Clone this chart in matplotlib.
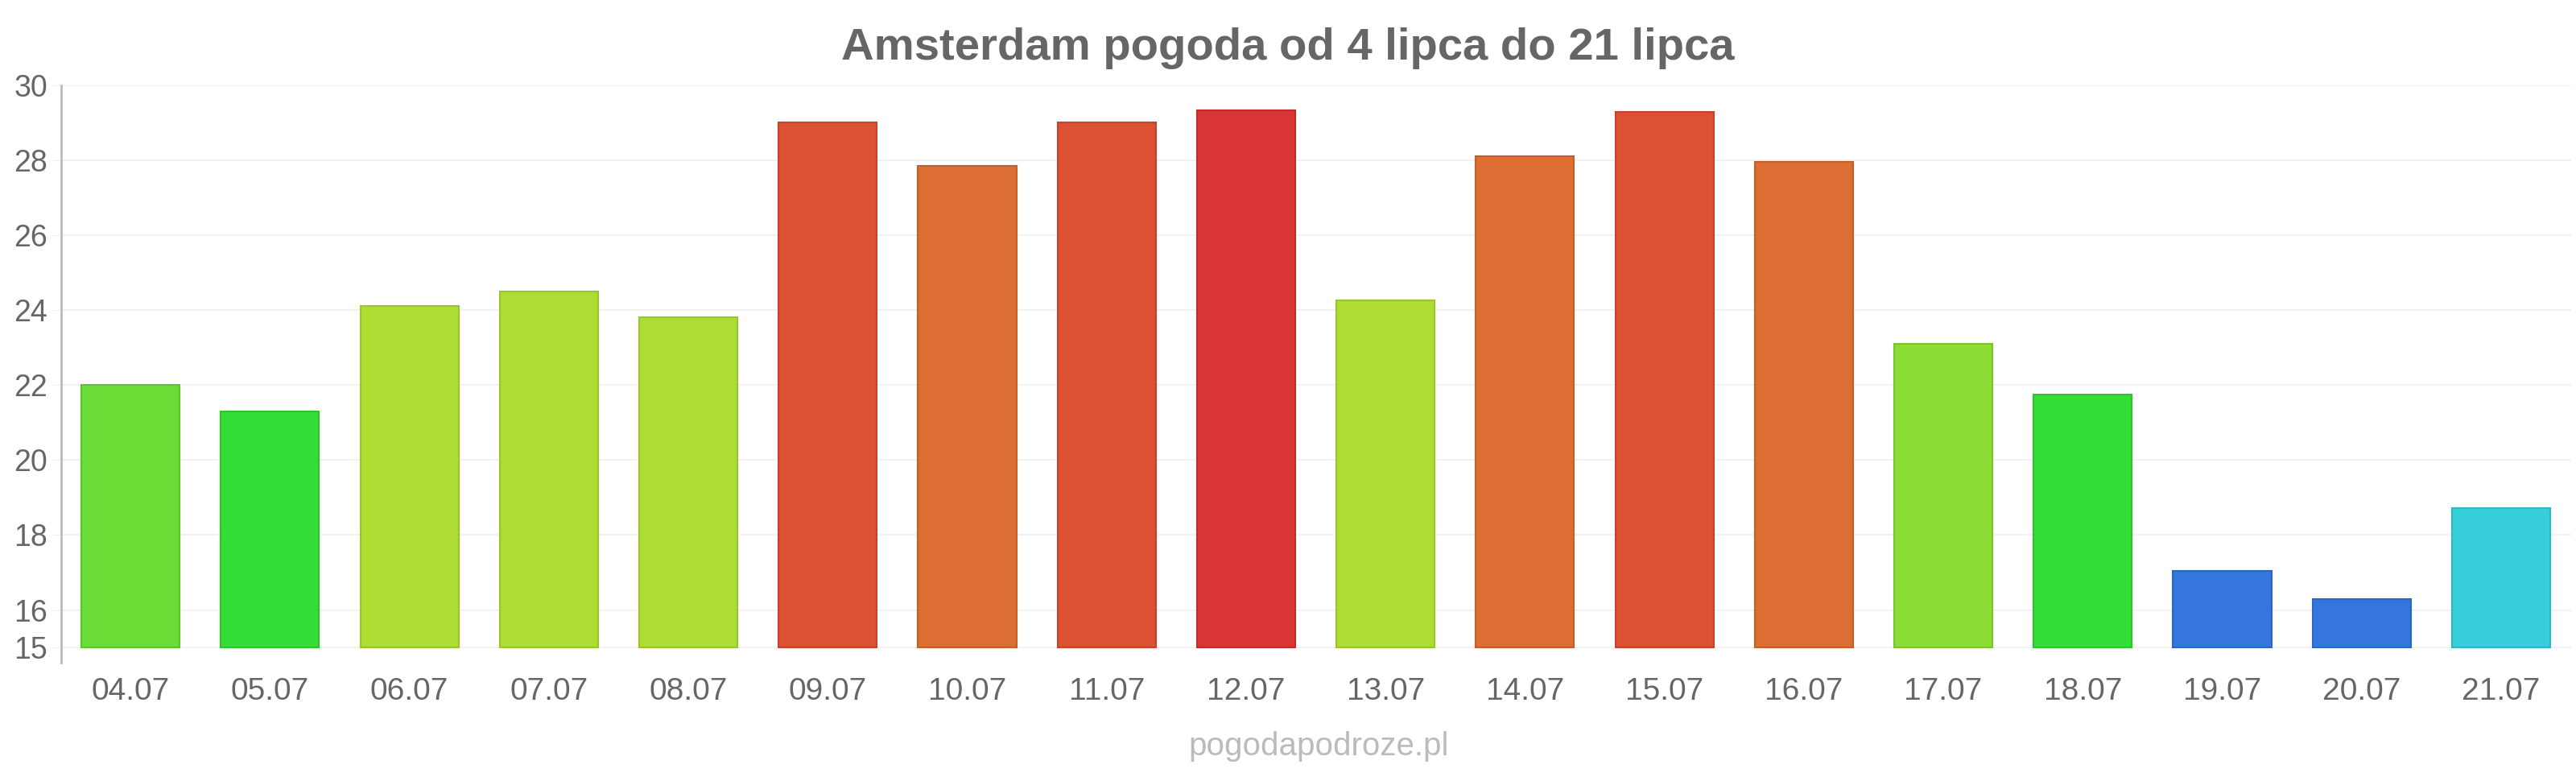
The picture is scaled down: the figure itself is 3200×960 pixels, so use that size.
import matplotlib.pyplot as plt

plt.rcParams['font.family'] = ['Liberation Sans', 'DejaVu Sans']

days = ["04.07", "05.07", "06.07", "07.07", "08.07", "09.07", "10.07", "11.07", "12.07",
        "13.07", "14.07", "15.07", "16.07", "17.07", "18.07", "19.07", "20.07", "21.07"]
temps = [22.0, 21.3, 24.1, 24.5, 23.8, 29.0, 27.85, 29.0, 29.33,
         24.25, 28.1, 29.28, 27.95, 23.1, 21.75, 17.05, 16.3, 18.72]
colors = ["#6bdd36", "#35dd37", "#addd33", "#addd33", "#addd33", "#dc5034", "#dc6e34", "#dc5034", "#da3535",
          "#addd33", "#dc6e34", "#dc5034", "#dc6e34", "#8bdd35", "#35dd37", "#3576dc", "#3576dc", "#36cfda"]
edges = ["#5cc52c", "#2cc52e", "#9ac52a", "#9ac52a", "#9ac52a", "#c4432a", "#c45f2a", "#c4432a", "#c22b2b",
         "#9ac52a", "#c45f2a", "#c4432a", "#c45f2a", "#79c52c", "#2cc52e", "#2c66c4", "#2c66c4", "#2db8c2"]
yticks = [15, 16, 18, 20, 22, 24, 26, 28, 30]
base = 15

fig = plt.figure(figsize=(32, 9.6), dpi=100)
ax = fig.add_axes([0.0236, 0.143, 0.9744, 0.747])

x = list(range(len(days)))
ax.bar(x, [t - base for t in temps], bottom=base, width=0.705, color=colors,
       edgecolor=edges, linewidth=1.5, zorder=3)

ax.set_xlim(-0.5, len(days) - 0.5)
ax.set_ylim(14.6, 30)
ax.set_yticks(yticks)
ax.set_xticks(x)
ax.set_xticklabels(days)
ax.grid(axis='y', color='#f2f2f2', linewidth=1.5, zorder=0)
ax.tick_params(axis='y', length=8, color='#eeeeee', labelsize=27, labelcolor='#666666', pad=4)
ax.tick_params(axis='x', length=0, labelsize=28, labelcolor='#666666', pad=13)

for s in ['top', 'right', 'bottom']:
    ax.spines[s].set_visible(False)
ax.spines['left'].set_color('#bbbbbb')
ax.spines['left'].set_linewidth(2)

fig.text(0.5, 0.937, "Amsterdam pogoda od 4 lipca do 21 lipca", ha='center', va='center',
         fontsize=40.5, fontweight='bold', color='#666666')
fig.text(0.512, 0.034, "pogodapodroze.pl", ha='center', va='center',
         fontsize=29, color='#bbbbbb')

plt.savefig("out.png")
plt.close()
